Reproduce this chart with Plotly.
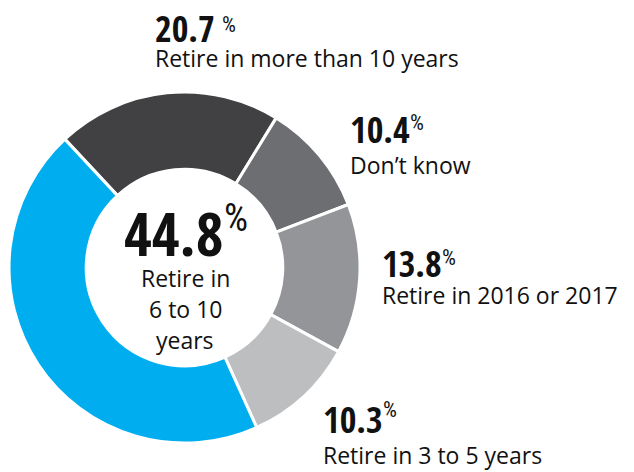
import plotly.graph_objects as go

W, H = 634, 472

categories = ["Retire in more than 10 years", "Don’t know", "Retire in 2016 or 2017",
              "Retire in 3 to 5 years", "Retire in 6 to 10 years"]
values = [20.7, 10.4, 13.8, 10.3, 44.8]
value_labels = ["20.7", "10.4", "13.8", "10.3", "44.8"]
centre_lines = ["Retire in", "6 to 10", "years"]
colors = ["#414042", "#6d6e71", "#939598", "#bcbec0", "#00aeef"]

fig = go.Figure()
fig.add_trace(go.Pie(
    labels=categories, values=values, sort=False, direction="clockwise",
    rotation=-43, hole=0.56,
    marker=dict(colors=colors, line=dict(color="white", width=3)),
    textinfo="none", hoverinfo="label+percent", showlegend=False,
    domain=dict(x=[8 / W, 361 / W], y=[1 - 443 / H, 1 - 92 / H]),
))

NUM_FONT = "Open Sans Condensed"
PCT_FONT = "Roboto Condensed"
TXT_FONT = "Open Sans"
INK = "#111111"
DESC = 0.37
CAP = 0.714

ann = []


def put(x, base, text, family, size, weight="normal", anchor="left"):
    ybot = base + DESC * size
    ann.append(dict(x=x / W, y=1 - ybot / H, xref="paper", yref="paper", text=text,
                    showarrow=False, xanchor=anchor, yanchor="bottom",
                    borderpad=0, borderwidth=0,
                    font=dict(family=family, size=size, color=INK, weight=weight)))


def pct(x, top, size):
    put(x, top + CAP * size, "%", PCT_FONT, size, "normal")


NS = 36   # outside number size
LS = 23   # label size
PS = 22   # percent size

put(155, 40, value_labels[0], NUM_FONT, NS, "bold")
pct(222, 13, PS)
put(155, 65, categories[0], TXT_FONT, LS)

put(350, 141, value_labels[1], NUM_FONT, NS, "bold")
pct(410, 111, PS)
put(350, 172, categories[1], TXT_FONT, LS)

put(382, 275, value_labels[2], NUM_FONT, NS, "bold")
pct(442, 246, PS)
put(382, 302, categories[2], TXT_FONT, LS)

put(323, 431, value_labels[3], NUM_FONT, NS, "bold")
pct(383, 398, PS)
put(323, 462, categories[3], TXT_FONT, LS)

# centre label
put(124, 252, value_labels[4], NUM_FONT, 60, "bold")
pct(224, 199, 38)
for i, line in enumerate(centre_lines):
    put(185, 285 + 31 * i, line, TXT_FONT, LS, anchor="center")

fig.update_layout(
    width=W, height=H, margin=dict(l=0, r=0, t=0, b=0),
    paper_bgcolor="white", plot_bgcolor="white",
    annotations=ann,
)

fig.write_html("out.html", post_script="document.body.style.margin='0px';",
               config={"displayModeBar": False})
